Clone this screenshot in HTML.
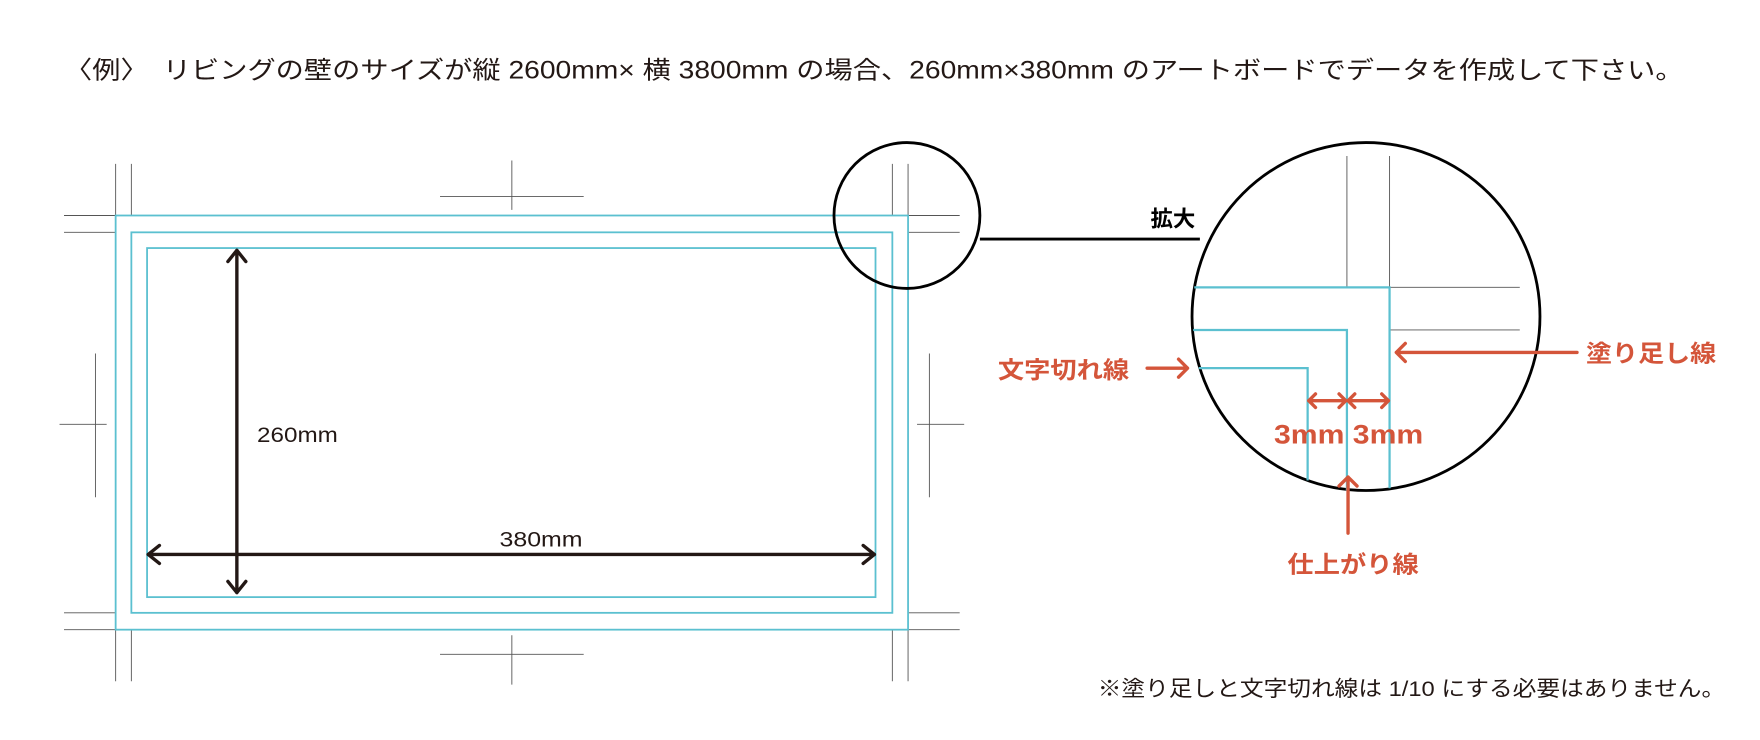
<!DOCTYPE html>
<html><head><meta charset="utf-8"><style>
html,body{margin:0;padding:0;background:#fff;}
svg{display:block;}
text{font-family:"Liberation Sans","Noto Sans CJK JP",sans-serif;}
</style></head><body>
<svg width="1760" height="740" viewBox="0 0 1568 659.3" xmlns="http://www.w3.org/2000/svg">
<text x="57" y="70" font-size="22" fill="#231815" textLength="1443" lengthAdjust="spacingAndGlyphs">〈例〉　リビングの壁のサイズが縦 2600mm× 横 3800mm の場合、260mm×380mm のアートボードでデータを作成して下さい。</text>

<g stroke="#555" stroke-width="0.8" fill="none">
<path d="M103 146V192M117 146V192M57 192H103M57 207H103"/>
<path d="M795 146V192M809 146V192M809 192H855M809 207H855"/>
<path d="M103 561V607M117 561V607M57 546H103M57 561H103"/>
<path d="M795 561V607M809 561V607M809 546H855M809 561H855"/>
<path d="M392 175H520M456 143V187M392 583H520M456 566V610"/>
<path d="M85 315V443M53 378H95M828 315V443M817 378H859"/>
</g>
<g stroke="#5bc0d0" stroke-width="1.6" fill="none">
<rect x="103" y="192" width="706" height="369"/>
<rect x="117" y="207" width="678" height="339"/>
<rect x="131" y="221" width="649" height="311"/>
</g>
<g stroke="#231815" stroke-width="3" fill="none" stroke-linecap="round" stroke-linejoin="round">
<path d="M211 223V528M203 233L211 223L219 233M203 518L211 528L219 518"/>
<path d="M132 494H779M142 486L132 494L142 502M769 486L779 494L769 502"/>
</g>
<text x="229" y="394" font-size="19" fill="#231815" textLength="72" lengthAdjust="spacingAndGlyphs">260mm</text>
<text x="445" y="487" font-size="19" fill="#231815" textLength="74" lengthAdjust="spacingAndGlyphs">380mm</text>

<circle cx="808" cy="192" r="65" fill="none" stroke="#000" stroke-width="2.5"/>
<path d="M873 213H1069" stroke="#000" stroke-width="2.5"/>
<text x="1025" y="202" font-size="20" font-weight="bold" fill="#000">拡大</text>
<circle cx="1217" cy="282" r="155" fill="none" stroke="#000" stroke-width="2.5"/>
<g stroke="#555" stroke-width="0.8">
<path d="M1200 139V256M1238 139V256M1238 256H1354M1238 294H1354"/>
</g>
<g stroke="#5bc0d0" stroke-width="2" fill="none">
<path d="M1064 256H1238V435"/>
<path d="M1063 294H1200V437"/>
<path d="M1068 328H1165V428"/>
</g>
<g stroke="#d4553a" stroke-width="3" fill="none" stroke-linecap="round" stroke-linejoin="round">
<path d="M1166 357H1199M1172 351L1166 357L1172 363M1193 351L1199 357L1193 363"/>
<path d="M1201 357H1237M1207 351L1201 357L1207 363M1231 351L1237 357L1231 363"/>
<path d="M1244 314H1405M1252 306L1244 314L1252 322"/>
<path d="M1022 328H1058M1050 320L1058 328L1050 336"/>
<path d="M1201 425V475M1193 433L1201 425L1209 433"/>
</g>
<text x="1135" y="395" font-size="24" font-weight="bold" fill="#d4553a" textLength="133" lengthAdjust="spacingAndGlyphs">3mm 3mm</text>
<text x="1413" y="322" font-size="21" font-weight="bold" fill="#d4553a" textLength="116" lengthAdjust="spacingAndGlyphs">塗り足し線</text>
<text x="889" y="337" font-size="21" font-weight="bold" fill="#d4553a" textLength="117" lengthAdjust="spacingAndGlyphs">文字切れ線</text>
<text x="1147" y="510" font-size="21" font-weight="bold" fill="#d4553a" textLength="117" lengthAdjust="spacingAndGlyphs">仕上がり線</text>
<text x="978" y="620" font-size="19" fill="#231815" textLength="559" lengthAdjust="spacingAndGlyphs">※塗り足しと文字切れ線は 1/10 にする必要はありません。</text>
</svg>
</body></html>
